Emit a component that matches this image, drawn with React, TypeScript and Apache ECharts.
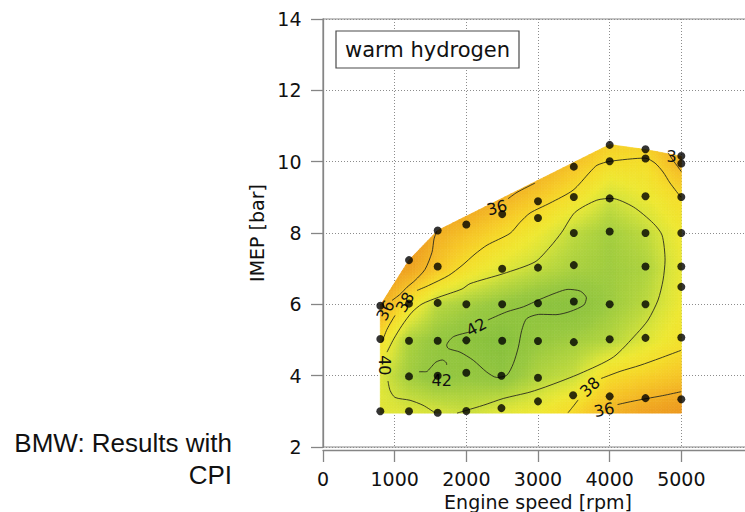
import React, { useEffect, useRef } from "react";
import * as echarts from "echarts";

// ---------------- data ----------------
const rpmTicks = [0, 1000, 2000, 3000, 4000, 5000];
const imepTicks = [2, 4, 6, 8, 10, 12, 14];

const gridRpm = [800, 1200, 1600, 2000, 2500, 3000, 3500, 4000, 4500, 5000];
const gridImep = [3, 4, 5, 6, 7, 8, 9, 10, 11];
const efficiency = [
  [39.4, 39.6, 39.8, 40.15, 39.5, 39.0, 37.8, 36.0, 35.0, 34.3], // 3 bar
  [39.6, 41.2, 42.0, 41.7, 42.05, 40.8, 40.15, 38.0, 37.4, 36.8], // 4 bar
  [38.2, 40.9, 41.7, 42.15, 42.6, 41.6, 41.2, 40.7, 39.6, 38.4], // 5 bar
  [35.4, 38.3, 40.5, 41.1, 41.7, 42.2, 42.4, 41.4, 40.5, 39.0], // 6 bar
  [34.0, 35.0, 36.8, 38.3, 39.5, 40.3, 41.0, 41.3, 40.9, 39.2], // 7 bar
  [32.5, 33.5, 35.7, 36.6, 37.8, 39.0, 40.4, 41.2, 40.4, 38.9], // 8 bar
  [31.0, 32.0, 33.5, 34.5, 35.8, 37.0, 38.3, 40.0, 39.1, 38.0], // 9 bar
  [30.0, 31.0, 32.0, 33.0, 34.0, 35.2, 36.5, 38.0, 38.1, 35.8], // 10 bar
  [29.0, 30.0, 31.0, 32.0, 33.0, 34.0, 35.5, 36.8, 36.5, 34.5], // 11 bar
];

// outline of the measured map (convex)
const mapBoundary: number[][] = [
  [800, 2.95], [5000, 2.95], [5000, 10.15], [4500, 10.34], [4000, 10.48],
  [1600, 8.07], [1200, 7.24], [800, 5.97],
];

// measured operating points
const measuredPoints: number[][] = [
  [800, 3.0], [800, 5.03], [800, 5.96],
  [1200, 3.0], [1200, 3.98], [1200, 4.98], [1200, 6.02], [1200, 7.24],
  [1600, 2.96], [1600, 4.0], [1600, 4.98], [1600, 6.04], [1600, 7.06], [1600, 8.07],
  [2000, 3.01], [2000, 4.08], [2000, 4.99], [2000, 6.0], [2000, 8.24],
  [2490, 3.09], [2490, 4.0], [2500, 4.98], [2500, 6.0], [2500, 7.0], [2500, 8.53],
  [3000, 3.28], [3000, 3.94], [3000, 4.97], [3000, 6.03], [3000, 7.03], [3000, 8.42], [3000, 8.89],
  [3490, 3.45], [3500, 4.94], [3500, 6.08], [3500, 7.1], [3500, 8.0], [3500, 9.01], [3500, 9.86],
  [4000, 3.42], [4000, 5.02], [4000, 6.0], [4000, 8.04], [4000, 8.97], [4000, 10.01], [4000, 10.47],
  [4500, 3.37], [4500, 5.06], [4500, 6.0], [4500, 7.06], [4500, 8.0], [4500, 9.03], [4500, 10.09], [4500, 10.35],
  [5000, 3.34], [5000, 5.07], [5000, 6.49], [5000, 7.06], [5000, 8.0], [5000, 9.01], [5000, 9.95], [5000, 10.16],
];

// iso-efficiency lines
const contour42Main: number[][] = [
  [2300, 5.56], [2564, 5.79], [2795, 5.93], [3028, 6.14], [3262, 6.33], [3420, 6.42], [3590, 6.37],
  [3675, 6.18], [3640, 5.98], [3450, 5.80], [3250, 5.71], [3028, 5.72], [2843, 5.60], [2773, 5.27],
  [2726, 4.80], [2656, 4.34], [2564, 4.01], [2424, 3.95], [2285, 4.10], [2098, 4.43], [1912, 4.66],
  [1749, 4.76], [1726, 4.85], [1818, 5.09], [2040, 5.22],
];
const contour42Small: number[][] = [
  [1340, 4.11], [1440, 4.11], [1500, 4.22], [1575, 4.38], [1665, 4.44], [1722, 4.36], [1726, 4.30],
];
const contour40Left: number[][] = [
  [1563, 2.96], [1396, 3.17], [1214, 3.31], [1005, 3.39], [935, 3.59], [907, 3.85],
];
const contour40Main: number[][] = [
  [893, 4.66], [987, 5.03], [1103, 5.41], [1242, 5.78], [1382, 6.01], [1615, 6.20], [1940, 6.43],
  [2052, 6.58], [2516, 6.86], [2959, 7.19], [3168, 7.61], [3331, 8.02], [3517, 8.58], [3820, 8.92],
  [4029, 8.97], [4331, 8.73], [4610, 8.27], [4731, 7.94], [4773, 7.24], [4745, 6.68], [4675, 6.12],
  [4536, 5.56], [4378, 5.18], [4051, 4.52], [3587, 4.06], [3168, 3.73], [2889, 3.54], [2516, 3.36],
  [2237, 3.17], [2005, 3.03], [1870, 2.95],
];
const contour38LeftEnd: number[][] = [[823, 4.94], [893, 5.30], [1005, 5.69]];
const contour38Upper: number[][] = [
  [1312, 6.39], [1475, 6.53], [1754, 6.81], [1940, 7.09], [2121, 7.41], [2289, 7.66], [2610, 7.99],
  [2749, 8.30], [2889, 8.56], [3168, 8.84], [3489, 9.20], [3726, 9.71], [3824, 9.90], [4005, 10.01],
  [4494, 10.10], [4633, 9.96], [4745, 9.71], [4843, 9.40], [4996, 9.00],
];
const contour38LowerStart: number[][] = [[3419, 2.96], [3503, 3.17], [3560, 3.32]];
const contour38Lower: number[][] = [[3880, 3.92], [4145, 4.12], [4424, 4.29], [4703, 4.49], [4996, 4.71]];
const contour36Left: number[][] = [
  [963, 6.11], [1075, 6.28], [1172, 6.48], [1284, 6.67], [1424, 6.98], [1521, 7.46], [1549, 7.83], [1587, 8.05],
];
const contour36Top: number[][] = [[2582, 8.96], [2707, 9.14], [2959, 9.40]];
const contour36Corner: number[][] = [[4815, 10.25], [4880, 10.05], [4950, 9.86], [5000, 9.72]];
const contour36Bottom: number[][] = [[4110, 3.19], [4290, 3.27], [4520, 3.36], [4740, 3.44], [4996, 3.55]];

const contourLabels = ["42", "42", "40", "38", "36", "36", "38", "36", "3"];
const contourLabelAt: number[][] = [
  [2140, 5.36], [1657, 3.87], [865, 4.29], [1144, 6.06], [872, 5.83],
  [2428, 8.71], [3726, 3.68], [3922, 3.04], [4865, 10.15],
];

// ---------------- styling ----------------
const FONT = "'DejaVu Sans', sans-serif";
const contourLabelTilt = [0.5, 0, -Math.PI / 2, 1.05, 1.1, 0.25, 0.75, 0.2, 0];
const colorStops: [number, number[]][] = [
  [29, [222, 106, 26]],
  [33, [232, 135, 29]],
  [35, [239, 163, 33]],
  [36, [243, 181, 37]],
  [37, [246, 201, 40]],
  [38, [245, 221, 42]],
  [39, [238, 232, 51]],
  [39.7, [218, 228, 58]],
  [40.5, [186, 216, 62]],
  [41.5, [153, 201, 64]],
  [42.5, [137, 193, 62]],
  [44, [128, 187, 60]],
];

function colorFor(v: number): string {
  if (v <= colorStops[0][0]) return `rgb(${colorStops[0][1].join(",")})`;
  for (let i = 0; i < colorStops.length - 1; i++) {
    const [a, ca] = colorStops[i];
    const [b, cb] = colorStops[i + 1];
    if (v <= b) {
      const t = (v - a) / (b - a);
      const c = ca.map((x, k) => Math.round(x + (cb[k] - x) * t));
      return `rgb(${c.join(",")})`;
    }
  }
  return `rgb(${colorStops[colorStops.length - 1][1].join(",")})`;
}

function fieldValue(x: number, y: number): number {
  const cx = Math.min(Math.max(x, gridRpm[0]), gridRpm[gridRpm.length - 1]);
  const cy = Math.min(Math.max(y, gridImep[0]), gridImep[gridImep.length - 1]);
  let i = 0;
  while (i < gridRpm.length - 2 && cx > gridRpm[i + 1]) i++;
  let j = 0;
  while (j < gridImep.length - 2 && cy > gridImep[j + 1]) j++;
  const tx = (cx - gridRpm[i]) / (gridRpm[i + 1] - gridRpm[i]);
  const ty = (cy - gridImep[j]) / (gridImep[j + 1] - gridImep[j]);
  const v00 = efficiency[j][i], v10 = efficiency[j][i + 1];
  const v01 = efficiency[j + 1][i], v11 = efficiency[j + 1][i + 1];
  return (v00 * (1 - tx) + v10 * tx) * (1 - ty) + (v01 * (1 - tx) + v11 * tx) * ty;
}

function clipToBoundary(poly: number[][]): number[][] {
  let out = poly;
  const n = mapBoundary.length;
  for (let i = 0; i < n; i++) {
    const a = mapBoundary[i];
    const b = mapBoundary[(i + 1) % n];
    const inp = out;
    out = [];
    if (!inp.length) break;
    const side = (p: number[]) => (b[0] - a[0]) * (p[1] - a[1]) - (b[1] - a[1]) * (p[0] - a[0]);
    for (let j = 0; j < inp.length; j++) {
      const p = inp[j];
      const q = inp[(j + 1) % inp.length];
      const sp = side(p);
      const sq = side(q);
      if (sp >= 0) out.push(p);
      if ((sp >= 0) !== (sq >= 0)) {
        const t = sp / (sp - sq);
        out.push([p[0] + (q[0] - p[0]) * t, p[1] + (q[1] - p[1]) * t]);
      }
    }
  }
  return out;
}

export default function App() {
  const ref = useRef<HTMLDivElement>(null);

  useEffect(() => {
    if (!ref.current) return;
    const chart = echarts.init(ref.current, undefined, { renderer: "svg" });

    const cells: number[][] = [];
    for (let r = 0; r < gridImep.length - 1; r++) {
      for (let c = 0; c < gridRpm.length - 1; c++) {
        cells.push([gridRpm[c], gridRpm[c + 1], r === 0 ? 2.9 : gridImep[r], gridImep[r + 1]]);
      }
    }

    const contours = [
      contour42Main, contour42Small, contour40Left, contour40Main, contour38LeftEnd, contour38Upper,
      contour38LowerStart, contour38Lower, contour36Left, contour36Top, contour36Corner, contour36Bottom,
    ];

    const axisGray = "#858585";
    const textColor = "#111";

    const option: any = {
      animation: false,
      grid: {
        left: 323, top: 19, right: -8, bottom: 65,
        containLabel: false, outerBoundsMode: "none",
        show: true, borderColor: "#8a8a8a", borderWidth: 1.2, backgroundColor: "transparent",
      },
      xAxis: {
        type: "value", min: 0, max: 6000, interval: 1000, offset: 3,
        axisLine: { show: true, lineStyle: { color: axisGray, width: 1.3 } },
        axisTick: { show: true, length: 12, lineStyle: { color: axisGray, width: 1.3 } },
        axisLabel: {
          fontSize: 19, fontFamily: FONT, color: textColor, margin: 19,
          formatter: (v: number) => (rpmTicks.includes(v) ? String(v) : ""),
        },
        splitLine: { show: true, lineStyle: { color: "#8c8c8c", width: 1, type: [1, 2] } },
        name: "Engine speed [rpm]", nameLocation: "middle", nameGap: 37,
        nameTextStyle: { fontSize: 19, fontFamily: FONT, color: textColor },
      },
      yAxis: {
        type: "value", min: 2, max: 14, interval: 2, offset: 2.5,
        axisLine: { show: true, lineStyle: { color: axisGray, width: 1.3 } },
        axisTick: { show: true, length: 12, lineStyle: { color: axisGray, width: 1.3 } },
        axisLabel: {
          fontSize: 19, fontFamily: FONT, color: textColor, margin: 19,
          formatter: (v: number) => (imepTicks.includes(v) ? String(v) : ""),
        },
        splitLine: { show: true, lineStyle: { color: "#8c8c8c", width: 1, type: [1, 2] } },
        name: "IMEP [bar]", nameLocation: "middle", nameGap: 43,
        nameTextStyle: { fontSize: 19, fontFamily: FONT, color: textColor },
      },
      series: [
        {
          type: "custom",
          silent: true,
          z: 2,
          data: cells,
          encode: { x: [0, 1], y: [2, 3] },
          renderItem: (params: any, api: any) => {
            const x0 = api.value(0), x1 = api.value(1), y0 = api.value(2), y1 = api.value(3);
            const pA = api.coord([x0, y0]);
            const pB = api.coord([x1, y1]);
            const nx = Math.max(1, Math.round(Math.abs(pB[0] - pA[0]) / 3.2));
            const ny = Math.max(1, Math.round(Math.abs(pB[1] - pA[1]) / 3.2));
            const children: any[] = [];
            for (let i = 0; i < nx; i++) {
              for (let j = 0; j < ny; j++) {
                const xa = x0 + ((x1 - x0) * i) / nx, xb = x0 + ((x1 - x0) * (i + 1)) / nx;
                const ya = y0 + ((y1 - y0) * j) / ny, yb = y0 + ((y1 - y0) * (j + 1)) / ny;
                const poly = clipToBoundary([[xa, ya], [xb, ya], [xb, yb], [xa, yb]]);
                if (poly.length < 3) continue;
                const col = colorFor(fieldValue((xa + xb) / 2, (ya + yb) / 2));
                children.push({
                  type: "polygon",
                  shape: { points: poly.map((p) => api.coord(p)) },
                  style: { fill: col, stroke: col, lineWidth: 0.7 },
                  silent: true,
                });
              }
            }
            return { type: "group", children };
          },
        },
        ...contours.map((d) => ({
          type: "line",
          data: d,
          showSymbol: false,
          smooth: 0.25,
          silent: true,
          z: 3,
          lineStyle: { color: "#2a2a1e", width: 0.9 },
        })),
        {
          type: "custom",
          silent: true,
          z: 4,
          data: contourLabelAt,
          encode: { x: 0, y: 1 },
          renderItem: (params: any, api: any) => {
            const p = api.coord([api.value(0), api.value(1)]);
            const k = params.dataIndex;
            return {
              type: "text",
              x: p[0],
              y: p[1],
              rotation: contourLabelTilt[k],
              style: {
                text: contourLabels[k],
                fontSize: 16,
                fontFamily: FONT,
                fill: "#111",
                align: "center",
                verticalAlign: "middle",
              },
            };
          },
        },
        {
          type: "scatter",
          data: measuredPoints,
          symbol: "circle",
          symbolSize: 8,
          silent: true,
          z: 5,
          itemStyle: { color: "#000" },
        },
      ],
      graphic: [
        {
          type: "rect",
          z: 10,
          shape: { x: 336, y: 31, width: 183, height: 37 },
          style: { fill: "#fff", stroke: "#4a4a4a", lineWidth: 1.2 },
        },
        {
          type: "text",
          z: 11,
          x: 427.5,
          y: 50,
          style: {
            text: "warm hydrogen", fontSize: 21, fontFamily: FONT, fill: textColor,
            align: "center", verticalAlign: "middle",
          },
        },
        {
          type: "text",
          x: 232,
          y: 443,
          style: {
            text: "BMW: Results with", fontSize: 26, fontFamily: "'Liberation Sans', Arial, sans-serif",
            fill: "#111", align: "right", verticalAlign: "middle",
          },
        },
        {
          type: "text",
          x: 232,
          y: 475,
          style: {
            text: "CPI", fontSize: 26, fontFamily: "'Liberation Sans', Arial, sans-serif",
            fill: "#111", align: "right", verticalAlign: "middle",
          },
        },
      ],
    };

    chart.setOption(option);
    return () => chart.dispose();
  }, []);

  return (
    <div
      ref={ref}
      style={{ position: "fixed", left: 0, top: 0, width: 745, height: 512, background: "#fff" }}
    />
  );
}
